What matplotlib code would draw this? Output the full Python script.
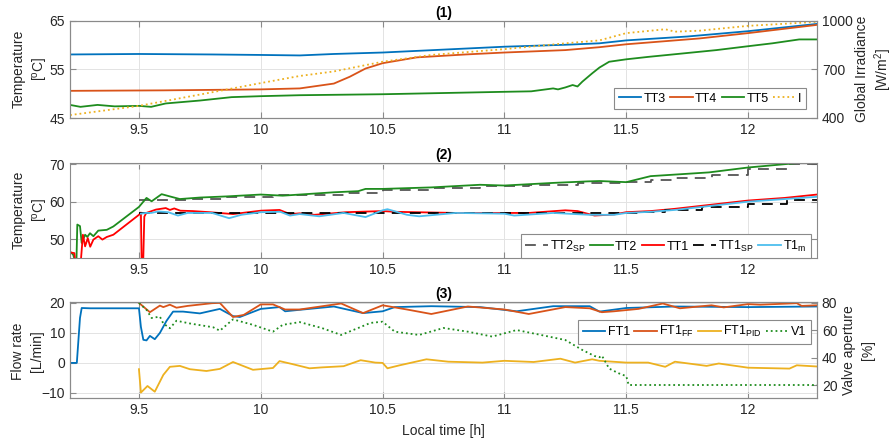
import matplotlib
matplotlib.use("Agg")
import matplotlib.pyplot as plt

plt.rcParams['font.family'] = ['Liberation Sans', 'DejaVu Sans']
plt.rcParams['mathtext.default'] = 'regular'
plt.rcParams['font.size'] = 10

# ---------------- panel (1) ----------------
t_tt3 = [9.217, 9.5, 9.8, 10.0, 10.16, 10.3, 10.5, 10.75, 11.0, 11.25, 11.39, 11.5, 11.75, 12.0, 12.283]
tt3 = [58.1, 58.2, 58.1, 58.0, 57.9, 58.2, 58.5, 59.1, 59.7, 60.1, 60.4, 61.0, 61.8, 62.9, 64.4]

t_tt4 = [9.217, 9.6, 10.0, 10.16, 10.3, 10.365, 10.43, 10.475, 10.5, 10.64, 10.84, 11.0, 11.25, 11.39,
         11.5, 11.8, 12.0, 12.283]
tt4 = [50.6, 50.7, 50.9, 51.1, 52.1, 53.5, 55.2, 55.9, 56.3, 57.5, 58.1, 58.5, 59.0, 59.6,
       60.2, 61.4, 62.5, 64.2]

t_tt5 = [9.217, 9.26, 9.33, 9.4, 9.5, 9.55, 9.61, 9.75, 9.88, 10.0, 10.16, 10.5, 11.0, 11.11, 11.2,
         11.22, 11.25, 11.28, 11.3, 11.32, 11.36, 11.39, 11.43, 11.5, 11.59, 11.73, 11.87, 12.0, 12.1,
         12.21, 12.283]
tt5 = [47.7, 47.3, 47.7, 47.4, 47.5, 47.3, 48.0, 48.6, 49.3, 49.5, 49.7, 49.9, 50.4, 50.5, 51.1,
       50.9, 51.3, 51.8, 51.5, 52.5, 54.2, 55.4, 56.6, 57.1, 57.6, 58.3, 59.0, 59.8, 60.4,
       61.2, 61.2]

t_irr = [9.217, 9.5, 9.75, 10.0, 10.16, 10.3, 10.43, 10.5, 10.7, 11.0, 11.25, 11.39, 11.5, 11.66,
         11.7, 11.8, 12.0, 12.14, 12.283]
irr = [418, 475, 545, 616, 660, 688, 727, 748, 790, 826, 862, 880, 925, 949,
       934, 940, 970, 982, 995]

# ---------------- panel (2) ----------------
t_tt2 = [9.217, 9.23, 9.243, 9.247, 9.258, 9.265, 9.279, 9.288, 9.299, 9.313, 9.333, 9.368, 9.395,
         9.5, 9.531, 9.552, 9.593, 9.627, 9.668, 9.75, 9.859, 10.0, 10.09, 10.16, 10.3, 10.4, 10.43,
         10.5, 10.7, 10.9, 11.0, 11.2, 11.34, 11.39, 11.5, 11.6, 11.84, 12.0, 12.17, 12.283]
tt2 = [46.7, 45.9, 43.0, 53.9, 53.5, 49.0, 51.2, 50.6, 51.6, 50.8, 52.3, 52.5, 53.4,
       58.6, 61.0, 60.1, 62.0, 61.4, 60.7, 61.1, 61.4, 61.9, 61.6, 61.9, 62.5, 62.8, 63.4,
       63.4, 63.8, 64.5, 64.3, 65.0, 65.4, 65.5, 65.2, 66.8, 67.8, 69.1, 70.1, 70.7]

t_tt2sp = [9.5, 9.7, 9.85, 10.05, 10.35, 10.5, 10.7, 10.9, 11.1, 11.3, 11.5, 11.6, 11.7, 11.85,
           12.0, 12.17, 12.283]
tt2sp = [60.5, 60.7, 61.2, 61.7, 62.3, 63.2, 63.6, 64.2, 64.5, 65.0, 65.3, 65.8, 66.3, 67.0,
         68.8, 70.0, 70.0]

t_tt1 = [9.217, 9.235, 9.24, 9.26, 9.27, 9.279, 9.29, 9.30, 9.313, 9.333, 9.35, 9.368, 9.395, 9.5,
         9.508, 9.512, 9.516, 9.522, 9.53, 9.57, 9.61, 9.627, 9.645, 9.67, 9.72, 9.79, 9.886, 10.0,
         10.077, 10.12, 10.16, 10.22, 10.35, 10.5, 10.55, 10.8, 11.1, 11.25, 11.3, 11.37, 11.45,
         11.5, 11.6, 11.7, 11.85, 12.0, 12.15, 12.283]
tt1 = [46.5, 46.3, 43.0, 43.0, 51.2, 48.1, 50.3, 48.0, 49.9, 50.8, 49.9, 50.6, 51.2, 56.5,
       57.1, 40.0, 40.0, 56.0, 57.0, 57.9, 58.3, 57.8, 58.2, 57.6, 57.5, 57.2, 56.7, 57.6,
       57.8, 56.7, 56.9, 56.5, 57.2, 57.5, 57.3, 57.0, 57.0, 57.7, 57.5, 56.3, 56.6,
       57.2, 57.5, 58.1, 59.2, 60.3, 61.0, 61.9]

t_tt1sp = [9.5, 11.56, 11.66, 11.81, 12.0, 12.16, 12.283]
tt1sp = [57.0, 57.3, 57.9, 58.6, 59.5, 60.5, 60.5]

t_t1m = [9.508, 9.53, 9.55, 9.58, 9.62, 9.66, 9.7, 9.8, 9.87, 9.92, 10.0, 10.08, 10.12, 10.16, 10.24,
         10.34, 10.43, 10.5, 10.52, 10.6, 10.65, 10.8, 11.0, 11.04, 11.2, 11.35, 11.45, 11.5, 11.6,
         11.7, 11.85, 12.0, 12.15, 12.283]
t1m = [56.8, 57.0, 57.0, 57.4, 57.2, 56.3, 57.0, 57.0, 55.6, 56.5, 57.2, 57.3, 56.3, 56.7, 56.1,
       57.0, 55.9, 57.7, 58.0, 56.5, 56.1, 57.0, 56.8, 56.3, 57.0, 56.5, 56.5, 57.0, 57.3,
       57.8, 58.9, 60.0, 60.7, 61.3]

# ---------------- panel (3) ----------------
t_ft1 = [9.217, 9.245, 9.258, 9.265, 9.3, 9.5, 9.508, 9.518, 9.531, 9.545, 9.565, 9.586, 9.613,
         9.64, 9.681, 9.75, 9.832, 9.886, 9.914, 10.0, 10.077, 10.1, 10.16, 10.3, 10.42, 10.5,
         10.55, 10.7, 10.9, 11.05, 11.2, 11.35, 11.39, 11.5, 11.7, 12.0, 12.283]
ft1 = [0.0, 0.0, 15.0, 18.3, 18.2, 18.2, 12.0, 7.7, 7.5, 9.0, 7.9, 10.0, 14.0,
       17.1, 17.1, 16.5, 18.0, 15.6, 15.3, 18.0, 18.6, 17.2, 17.7, 18.8, 16.6, 17.2,
       18.6, 18.9, 18.6, 17.2, 18.9, 18.9, 17.1, 18.3, 18.8, 18.6, 18.8]

t_ff = [9.5, 9.545, 9.586, 9.6, 9.627, 9.654, 9.7, 9.8, 9.832, 9.886, 9.93, 10.0, 10.05, 10.1,
        10.16, 10.33, 10.42, 10.5, 10.6, 10.7, 10.85, 11.0, 11.1, 11.25, 11.35, 11.4, 11.45, 11.55,
        11.65, 11.72, 11.85, 11.9, 12.0, 12.05, 12.2, 12.22, 12.283]
ft1_ff = [20.0, 16.9, 19.1, 18.6, 19.4, 18.4, 19.0, 19.9, 20.0, 15.3, 16.0, 19.5, 19.5, 17.8,
          17.8, 19.8, 16.6, 19.2, 17.8, 16.3, 18.8, 17.8, 16.3, 18.6, 18.2, 16.9, 17.2, 18.0,
          19.8, 18.2, 19.2, 18.5, 19.6, 19.4, 19.9, 19.0, 19.2]

t_pid = [9.5, 9.508, 9.535, 9.565, 9.6, 9.627, 9.668, 9.709, 9.777, 9.832, 9.886, 9.968, 10.05,
         10.077, 10.13, 10.2, 10.25, 10.34, 10.41, 10.47, 10.5, 10.52, 10.57, 10.68, 10.77, 10.91,
         11.0, 11.12, 11.23, 11.29, 11.36, 11.39, 11.5, 11.59, 11.66, 11.7, 11.83, 11.88, 12.0,
         12.17, 12.2, 12.283]
ft1_pid = [-2.1, -9.9, -7.7, -9.6, -4.0, -1.3, -1.0, -2.1, -2.7, -2.0, 0.3, -2.3, -1.7,
           0.6, -0.4, -1.8, -1.5, -1.1, 0.9, 0.1, 0.0, -1.8, -0.8, 1.2, 0.4, 0.1,
           0.7, 0.3, 1.4, 0.1, 1.2, 0.7, 0.1, 0.1, -1.3, 0.4, -1.0, -0.2, -1.6,
           -1.9, -0.8, -1.2]

t_v1 = [9.5, 9.531, 9.552, 9.586, 9.6, 9.627, 9.654, 9.709, 9.805, 9.832, 9.886, 9.968, 10.05,
        10.09, 10.16, 10.25, 10.33, 10.4, 10.45, 10.5, 10.55, 10.65, 10.75, 10.85, 10.95, 11.05,
        11.15, 11.25, 11.32, 11.37, 11.39, 11.4, 11.43, 11.47, 11.5, 11.51, 12.283]
v1 = [80, 75, 69, 70, 65, 61.5, 67, 65, 62.2, 59.7, 68, 64, 59,
      64, 66, 61.7, 56.6, 61.7, 65.4, 66.3, 59, 56.6, 61.7, 59, 55.4, 60.2,
      56.6, 52.9, 45.6, 41.2, 40.3, 41.5, 32, 28.5, 26.5, 20, 20]

xticks = [9.5, 10, 10.5, 11, 11.5, 12]
xticklabels = ['9.5', '10', '10.5', '11', '11.5', '12']

blue = '#0072BD'
orange = '#D95319'
yellow = '#EDB120'
green = '#1E8C1E'
edge = '#8a8a8a'
txt = '#262626'
lw = 1.3
W_PX, H_PX = 895, 445

fig = plt.figure(figsize=(8.95, 4.45), dpi=100)
L, W = 70 / W_PX, 747 / W_PX
ax1 = fig.add_axes([L, 1 - 118 / H_PX, W, 97 / H_PX])
ax2 = fig.add_axes([L, 1 - 258 / H_PX, W, 95 / H_PX])
ax3 = fig.add_axes([L, 1 - 398 / H_PX, W, 96 / H_PX])


def style(ax, right=False):
    for s in ax.spines.values():
        s.set_color(edge)
        s.set_linewidth(0.8)
    ax.tick_params(direction='in', length=4, width=0.8, colors=edge, labelcolor=txt,
                   labelsize=10, top=True, right=right)
    ax.grid(True, color='#e3e3e3', linewidth=0.7)
    ax.set_axisbelow(True)
    ax.set_xlim(9.217, 12.283)
    ax.set_xticks(xticks)
    ax.set_xticklabels(xticklabels)


def style_twin(ax):
    for s in ax.spines.values():
        s.set_color(edge)
        s.set_linewidth(0.8)
    ax.tick_params(direction='in', length=4, width=0.8, colors=edge, labelcolor=txt, labelsize=10)


def vlabel(x, y, s):
    # y-axis label line placed in pixel coordinates (from the top-left corner)
    fig.text(x / W_PX, 1 - y / H_PX, s, rotation=90, ha='center', va='center',
             rotation_mode='anchor', color=txt, fontsize=10)


legkw = dict(fontsize=9, handletextpad=0.2, columnspacing=0.35, borderaxespad=0,
             fancybox=False, edgecolor=edge, framealpha=1, borderpad=0.35)
dash = (0, (6, 4))

# (1)
style(ax1)
ax1r = ax1.twinx()
style_twin(ax1r)
h1, = ax1.plot(t_tt3, tt3, color=blue, lw=lw)
h2, = ax1.plot(t_tt4, tt4, color=orange, lw=lw)
h3, = ax1.plot(t_tt5, tt5, color=green, lw=lw)
h4, = ax1r.plot(t_irr, irr, color=yellow, lw=lw, ls=':')
ax1.set_ylim(45, 65)
ax1.set_yticks([45, 55, 65])
ax1r.set_ylim(400, 1000)
ax1r.set_yticks([400, 700, 1000])
ax1.set_title('(1)', fontweight='bold', fontsize=10, pad=3)
vlabel(18.5, 69, 'Temperature')
vlabel(40, 69, '[$^{o}$C]')
vlabel(862, 69, 'Global Irradiance')
vlabel(883, 69, '[W/m$^{2}$]')
leg = ax1r.legend([h1, h2, h3, h4], ['TT3', 'TT4', 'TT5', 'I'], loc='lower right',
                  bbox_to_anchor=(1 - 11 / 747, 9 / 97), ncol=4, handlelength=1.8, **legkw)
leg.get_frame().set_linewidth(0.8)

# (2)
style(ax2, right=True)
g1, = ax2.plot(t_tt2sp, tt2sp, color='#555555', lw=lw, ls=dash, drawstyle='steps-post')
g2, = ax2.plot(t_tt2, tt2, color=green, lw=lw)
g3, = ax2.plot(t_tt1, tt1, color='#FF0000', lw=lw)
g4, = ax2.plot(t_tt1sp, tt1sp, color='black', lw=lw, ls=dash, drawstyle='steps-post')
g5, = ax2.plot(t_t1m, t1m, color='#4DBEEE', lw=lw)
ax2.set_ylim(45, 70.3)
ax2.set_yticks([50, 60, 70])
ax2.set_title('(2)', fontweight='bold', fontsize=10, pad=3)
vlabel(18.5, 210, 'Temperature')
vlabel(40, 210, '[$^{o}$C]')
leg = ax2.legend([g1, g2, g3, g4, g5],
                 ['TT2$_{SP}$', 'TT2', 'TT1', 'TT1$_{SP}$', 'T1$_{m}$'],
                 loc='lower right', bbox_to_anchor=(1 - 6 / 747, 0), ncol=5,
                 handlelength=1.8, **legkw)
leg.get_frame().set_linewidth(0.8)

# (3)
style(ax3)
ax3r = ax3.twinx()
style_twin(ax3r)
f1, = ax3.plot(t_ft1, ft1, color=blue, lw=lw)
f2, = ax3.plot(t_ff, ft1_ff, color=orange, lw=lw)
f3, = ax3.plot(t_pid, ft1_pid, color=yellow, lw=lw)
f4, = ax3r.plot(t_v1, v1, color=green, lw=lw, ls=':')
ax3.set_ylim(-11.7, 20.3)
ax3.set_yticks([-10, 0, 10, 20])
ax3r.set_ylim(10.5, 80.7)
ax3r.set_yticks([20, 40, 60, 80])
ax3.set_xlabel('Local time [h]', color=txt, labelpad=5)
ax3.set_title('(3)', fontweight='bold', fontsize=10, pad=3)
vlabel(18, 351, 'Flow rate')
vlabel(37, 351, '[L/min]')
vlabel(849, 350, 'Valve aperture')
vlabel(868, 350, '[%]')
leg = ax3r.legend([f1, f2, f3, f4], ['FT1', 'FT1$_{FF}$', 'FT1$_{PID}$', 'V1'],
                  loc='upper right', bbox_to_anchor=(1 - 6 / 747, 1 - 18 / 96), ncol=4,
                  handlelength=1.8, **legkw)
leg.get_frame().set_linewidth(0.8)

fig.savefig('out.png', dpi=100)
